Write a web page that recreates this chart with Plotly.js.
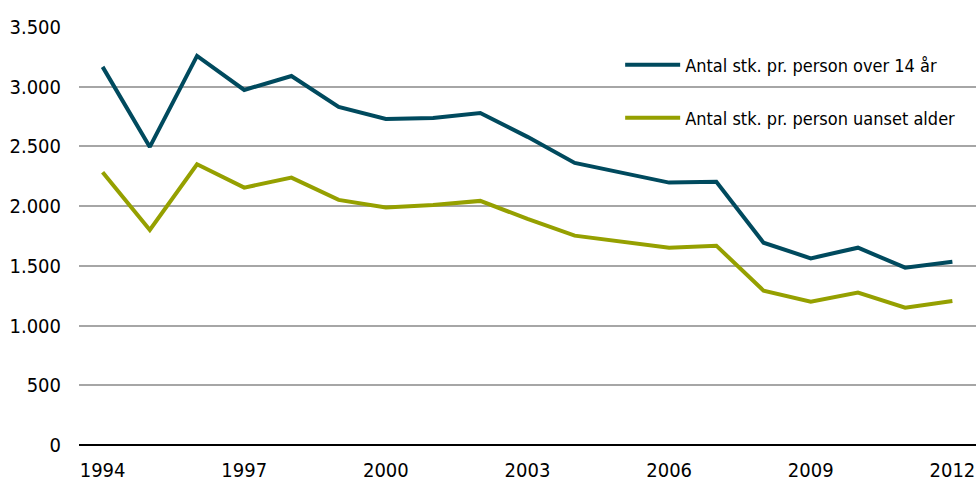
<!DOCTYPE html>
<html>
<head>
<meta charset="utf-8">
<script src="https://cdn.plot.ly/plotly-3.0.1.min.js"></script>
<style>html,body{margin:0;padding:0;background:#fff}#chart{width:976px;height:480px}</style>
</head>
<body>
<div id="chart"></div>
<script>
const years = [1994,1995,1996,1997,1998,1999,2000,2001,2002,2003,2004,2005,2006,2007,2008,2009,2010,2011,2012];
const over14 = [3166,2496,3258,2973,3090,2831,2730,2739,2780,2580,2362,2278,2197,2205,1694,1563,1652,1485,1535];
const allAges = [2284,1801,2351,2155,2239,2052,1988,2010,2044,1893,1753,1702,1652,1669,1292,1200,1276,1150,1206];
const seriesNames = ["Antal stk. pr. person over 14 år", "Antal stk. pr. person uanset alder"];
const xTicks = [1994,1997,2000,2003,2006,2009,2012];
const yTicks = [0,500,1000,1500,2000,2500,3000,3500];

const FONT = '"Liberation Sans Narrow", "DejaVu Sans Condensed", "Open Sans", sans-serif';

const traces = [
  {x: years, y: over14, name: seriesNames[0], type: 'scatter', mode: 'lines',
   line: {color: '#004a5e', width: 4}, legend: 'legend'},
  {x: years, y: allAges, name: seriesNames[1], type: 'scatter', mode: 'lines',
   line: {color: '#95a000', width: 4}, legend: 'legend2'}
];

const legendCommon = {
  bgcolor: 'rgba(0,0,0,0)', font: {family: FONT, size: 18, color: '#000'},
  xanchor: 'left', yanchor: 'middle', itemwidth: 55
};

const layout = {
  width: 976, height: 480,
  margin: {l: 79, r: 0, t: 27, b: 35},
  paper_bgcolor: '#fff', plot_bgcolor: '#fff',
  separators: ',.',
  font: {family: FONT, size: 20, color: '#000'},
  showlegend: true,
  xaxis: {
    range: [1993.5, 2012.5], tickvals: xTicks, ticktext: xTicks.map(String),
    showgrid: false, zeroline: false, showline: false,
    ticks: 'outside', ticklen: 7, tickcolor: 'rgba(0,0,0,0)',
    ticklabeloverflow: 'allow',
    tickfont: {family: FONT, size: 20, color: '#000'}
  },
  yaxis: {
    range: [0, 3500], tickvals: yTicks, tickformat: ',d',
    showgrid: true, gridcolor: '#a6a6a6', gridwidth: 2,
    zeroline: true, zerolinecolor: '#000', zerolinewidth: 2,
    showline: false, ticks: 'outside', ticklen: 13, tickcolor: 'rgba(0,0,0,0)',
    ticklabeloverflow: 'allow',
    tickfont: {family: FONT, size: 20, color: '#000'}
  },
  legend: Object.assign({x: 0.6033, y: 0.909}, legendCommon),
  legend2: Object.assign({x: 0.6033, y: 0.782}, legendCommon)
};

Plotly.newPlot('chart', traces, layout, {staticPlot: true, displayModeBar: false});
</script>
</body>
</html>
